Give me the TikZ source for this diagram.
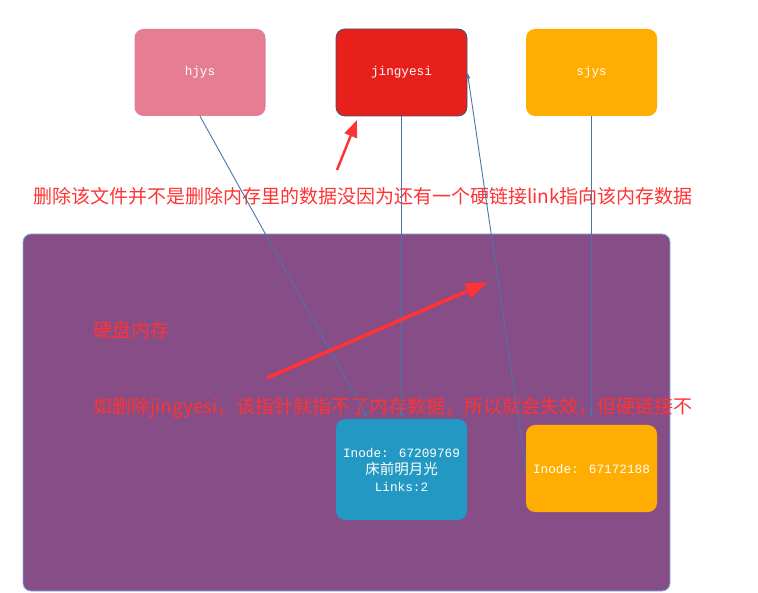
\documentclass[tikz,border=0pt]{standalone}
\usepackage{fontspec}
\newfontfamily\cjk{Noto Sans CJK SC}
\newfontfamily\mono{Liberation Mono}
\usetikzlibrary{arrows.meta,positioning}
\definecolor{hjyspink}{HTML}{E57E93}
\definecolor{jyred}{HTML}{E8201C}
\definecolor{jyedge}{HTML}{3D5573}
\definecolor{sjysorange}{HTML}{FFAD00}
\definecolor{diskpurple}{HTML}{874D87}
\definecolor{diskedge}{HTML}{7FB2DE}
\definecolor{inodeblue}{HTML}{2398C3}
\definecolor{linkblue}{HTML}{4A76A8}
\definecolor{notered}{HTML}{FF3333}
\tikzset{
	filebox/.style={rounded corners=9pt, minimum width=131pt, minimum height=87pt, inner sep=0pt,
		text=white, align=center, font=\mono\fontsize{12.7}{17}\selectfont},
	ptr/.style={draw=linkblue, line width=0.9pt, -{Latex[length=6pt,width=4.5pt]}},
	hint/.style={draw=notered, fill=notered, line width=3pt, -{Triangle[length=17pt,width=13pt]}},
	note/.style={text=notered, anchor=west, inner sep=0pt, font=\cjk\fontsize{19}{22}\selectfont}
}
\begin{document}
\begin{tikzpicture}[x=1pt,y=-1pt]
	\useasboundingbox (0,0) rectangle (758,593);
	% Disk
	\node [rounded corners=8pt, fill=diskpurple, draw=diskedge, line width=0.8pt, minimum width=647pt, minimum height=357pt] (disk) at (346.5,412.5) {};
	\node [note] (disklabel) at (93,330) {硬盘内存};
	% Notes
	\node [note] (msgtop) at (33,196) {删除该文件并不是删除内存里的数据没因为还有一个硬链接link指向该内存数据};
	\node [note] (msgdisk) at (93,408) {如删除jingyesi，该指针就指不了内存数据，所以就会失效，但硬链接不};
	% Files
	\node [filebox, fill=hjyspink] (hjys) at (200,72.5) {hjys};
	\node [filebox, fill=jyred, draw=jyedge, line width=0.8pt] (jingyesi) at (401.5,72.5) {jingyesi};
	\node [filebox, fill=sjysorange] (sjys) at (591.5,72.5) {sjys};
	% Inodes
	\node [filebox, fill=inodeblue, minimum height=101pt] (inodeA) at (401.5,469.5) {Inode: 67209769\\{\cjk\fontsize{14.5}{17}\selectfont 床前明月光}\\Links:2};
	\node [filebox, fill=sjysorange] (inodeB) at (591.5,468.5) {Inode: 67172188};
	% Pointers
	\draw [ptr] (hjys.south) -- ([xshift=-33.5pt]inodeA.north);
	\draw [ptr] (jingyesi.south) -- (inodeA.north);
	\draw [ptr] (sjys.south) -- ([yshift=6pt]inodeB.north);
	\draw [ptr] (inodeB.west) -- (jingyesi.east);
	% Hints
	\coordinate (tailA) at (337,170); \coordinate (tipA) at (357,120);
	\coordinate (tailB) at (267,378); \coordinate (tipB) at (488,282);
	\draw [hint, line width=2.5pt] (tailA) -- (tipA);
	\draw [hint, line width=3.5pt, -{Triangle[length=22pt,width=15pt]}] (tailB) -- (tipB);
\end{tikzpicture}
\end{document}
